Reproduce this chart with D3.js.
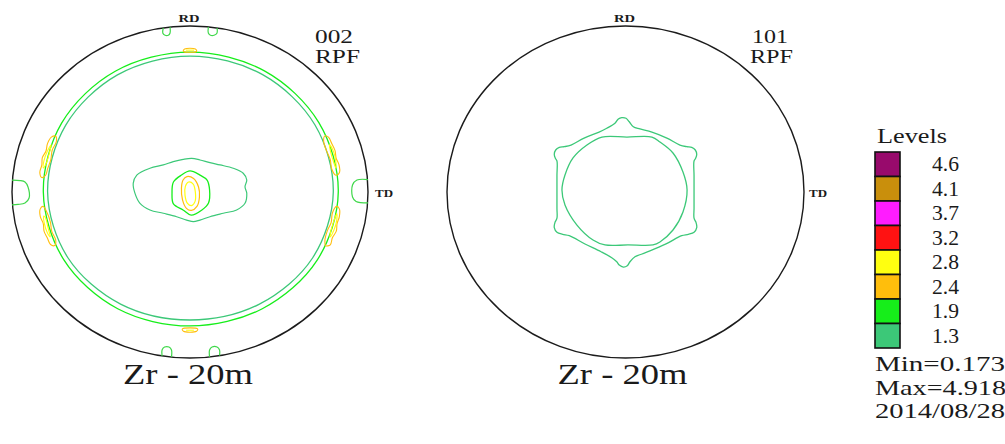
<!DOCTYPE html>
<html>
<head>
<meta charset="utf-8">
<script src="https://cdn.jsdelivr.net/npm/d3@7"></script>
<style>
  html, body { margin: 0; padding: 0; background: #fff; }
  svg { display: block; }
  text { font-family: "Liberation Serif", "DejaVu Serif", serif; fill: #1a1a1a; }
</style>
</head>
<body>
<svg id="chart" width="1005" height="444"></svg>
<script>
// ---- legend data --------------------------------------------------------
const levels = [4.6, 4.1, 3.7, 3.2, 2.8, 2.4, 1.9, 1.3];
const levelLabels = ["4.6", "4.1", "3.7", "3.2", "2.8", "2.4", "1.9", "1.3"];
const levelColors = ["#980a6c", "#c98f0c", "#ff1cff", "#ff1212", "#ffff10", "#ffbe0c", "#16ee1a", "#3cc878"];
const statLines = ["Min=0.173", "Max=4.918", "2014/08/28"];
const poleNames = ["002", "101"];
const sampleName = "Zr - 20m";

// ---- 002 pole figure (unit-circle coordinates) --------------------------
// rings: [azimuth deg, radius]
const ring002Outer = [[0,0.833],[30,0.836],[60,0.841],[90,0.843],[120,0.840],[150,0.832],
  [180,0.824],[210,0.818],[240,0.812],[270,0.807],[300,0.812],[330,0.824]];
const ring002Inner = [[0,0.805],[30,0.810],[60,0.816],[90,0.819],[120,0.815],[150,0.806],
  [180,0.800],[210,0.792],[240,0.780],[270,0.771],[300,0.780],[330,0.795]];

// 2.4 islands sitting on the ring: [azimuth deg, radius]
const ring002Level24 = [
  [[156,0.826],[157,0.846],[160,0.852],[163,0.846],[166,0.855],[169,0.848],[172,0.852],[174,0.838],[173,0.818],[170,0.812],[166,0.806],[162,0.814],[158,0.810]],
  [[186,0.830],[187,0.848],[190,0.854],[193,0.846],[196,0.853],[199,0.848],[202,0.845],[203,0.826],[201,0.808],[197,0.812],[193,0.805],[189,0.812]],
  [[7,0.826],[8,0.848],[11,0.853],[14,0.846],[17,0.852],[20,0.848],[23,0.845],[24,0.828],[22,0.810],[18,0.806],[14,0.812],[10,0.808]],
  [[337,0.828],[338,0.850],[341,0.846],[344,0.855],[347,0.848],[350,0.852],[353,0.846],[354,0.828],[351,0.810],[347,0.814],[343,0.806],[339,0.812]],
  [[87.5,0.848],[88,0.862],[92,0.862],[92.5,0.848]],
  [[267,0.826],[267.5,0.840],[272.5,0.840],[273,0.826]]
];
// 2.8 islands inside them
const ring002Level28 = [
  [[160,0.830],[163,0.838],[167,0.842],[170,0.836],[168,0.826],[164,0.824]],
  [[190,0.834],[193,0.840],[197,0.838],[199,0.830],[195,0.826],[191,0.826]],
  [[10,0.832],[13,0.840],[17,0.842],[20,0.834],[17,0.826],[13,0.826]],
  [[341,0.832],[344,0.840],[348,0.842],[351,0.834],[347,0.826],[343,0.826]],
  [[88.5,0.855],[91.5,0.855]],
  [[268.5,0.833],[271.5,0.833]]
];

// small 1.9 loops touching the rim: [x, y]
const rim002Loops = [
  [[-1.000,0.072],[-0.955,0.069],[-0.927,0.060],[-0.910,0.030],[-0.904,-0.036],[-0.927,-0.066],[-0.966,-0.075],[-1.000,-0.078]],
  [[1.000,0.075],[0.938,0.072],[0.913,0.042],[0.913,-0.030],[0.933,-0.057],[1.000,-0.066]],
  [[-0.150,0.988],[-0.153,0.958],[-0.140,0.944],[-0.122,0.944],[-0.112,0.958],[-0.112,0.993]],
  [[0.103,0.994],[0.103,0.958],[0.115,0.944],[0.135,0.944],[0.152,0.958],[0.152,0.988]],
  [[-0.157,-0.988],[-0.157,-0.952],[-0.143,-0.934],[-0.118,-0.934],[-0.104,-0.952],[-0.104,-0.994]],
  [[0.110,-0.993],[0.110,-0.952],[0.124,-0.934],[0.152,-0.934],[0.166,-0.952],[0.166,-0.986]]
];

// central maximum: [x, y]
const center002Level13 = [[-0.319,0.052],[-0.299,0.102],[-0.225,0.143],[-0.150,0.163],[-0.094,0.183],
  [-0.038,0.197],[0.010,0.203],[0.056,0.193],[0.112,0.177],[0.169,0.163],[0.243,0.143],[0.299,0.113],
  [0.319,0.072],[0.309,0.032],[0.319,-0.008],[0.309,-0.068],[0.262,-0.108],[0.187,-0.128],[0.112,-0.149],
  [0.056,-0.169],[0.019,-0.179],[-0.019,-0.169],[-0.075,-0.149],[-0.150,-0.128],[-0.225,-0.108],
  [-0.281,-0.068],[-0.309,-0.008]];
const center002Level19 = [[0.000,0.127],[0.056,0.102],[0.096,0.072],[0.110,0.012],[0.104,-0.066],
  [0.067,-0.108],[0.006,-0.139],[-0.039,-0.108],[-0.093,-0.072],[-0.101,-0.006],[-0.093,0.060],[-0.048,0.102]];
const center002Level24 = [[-0.017,0.093],[0.020,0.081],[0.048,0.030],[0.053,-0.030],[0.039,-0.087],
  [0.008,-0.111],[-0.020,-0.099],[-0.042,-0.048],[-0.048,0.024],[-0.039,0.072]];
const center002Level28 = [[-0.008,0.060],[0.018,0.048],[0.030,0.000],[0.028,-0.058],[0.008,-0.082],
  [-0.014,-0.068],[-0.028,-0.020],[-0.026,0.034]];

// ---- 101 pole figure ----------------------------------------------------
const star101Level13 = [[-0.021,0.448],[0.003,0.444],[0.021,0.423],[0.044,0.393],[0.081,0.380],
  [0.148,0.361],[0.232,0.325],[0.305,0.283],[0.343,0.273],[0.371,0.269],[0.391,0.253],[0.399,0.227],
  [0.393,0.203],[0.384,0.187],[0.384,0.100],[0.384,0.000],[0.384,-0.100],[0.384,-0.158],[0.395,-0.183],
  [0.399,-0.215],[0.384,-0.243],[0.352,-0.255],[0.315,-0.263],[0.227,-0.313],[0.137,-0.355],
  [0.080,-0.378],[0.053,-0.390],[0.025,-0.420],[0.010,-0.444],[-0.012,-0.452],[-0.035,-0.440],
  [-0.049,-0.420],[-0.077,-0.396],[-0.137,-0.360],[-0.227,-0.313],[-0.315,-0.263],[-0.352,-0.255],
  [-0.384,-0.243],[-0.399,-0.215],[-0.395,-0.183],[-0.384,-0.158],[-0.384,-0.100],[-0.384,0.000],
  [-0.384,0.100],[-0.384,0.187],[-0.393,0.203],[-0.399,0.227],[-0.391,0.253],[-0.371,0.269],
  [-0.343,0.273],[-0.305,0.283],[-0.232,0.325],[-0.148,0.361],[-0.105,0.384],[-0.059,0.414],
  [-0.040,0.440]];
const lens101Level13 = [[-0.132,0.331],[0.008,0.331],[0.148,0.331],[0.193,0.301],[0.266,0.235],
  [0.322,0.120],[0.345,0.012],[0.322,-0.120],[0.266,-0.229],[0.193,-0.301],[0.154,-0.319],
  [0.014,-0.319],[-0.115,-0.319],[-0.182,-0.289],[-0.272,-0.199],[-0.339,-0.078],[-0.356,0.012],
  [-0.339,0.102],[-0.294,0.205],[-0.216,0.283]];

// ---- drawing ------------------------------------------------------------
const svg = d3.select("#chart");
const levelColor = d3.scaleOrdinal(levels, levelColors);
const rimColor = "#3fd84a";

const polar = d => [d[1] * Math.cos(d[0] * Math.PI / 180), d[1] * Math.sin(d[0] * Math.PI / 180)];

function poleFigure(cx, cy, rx, ry, name, labelPos) {
  const x = d3.scaleLinear().domain([-1, 1]).range([cx - rx, cx + rx]);
  const y = d3.scaleLinear().domain([-1, 1]).range([cy + ry, cy - ry]);
  const g = svg.append("g");
  const closed = d3.line().x(d => x(d[0])).y(d => y(d[1])).curve(d3.curveCatmullRomClosed.alpha(0.5));
  const open = d3.line().x(d => x(d[0])).y(d => y(d[1])).curve(d3.curveCatmullRom.alpha(0.5));

  g.append("ellipse")
    .attr("cx", x(0)).attr("cy", y(0))
    .attr("rx", x(1) - x(0)).attr("ry", y(0) - y(1))
    .attr("fill", "none").attr("stroke", "#1b1b1b").attr("stroke-width", 1.4);

  const contour = (pts, level, isClosed = true, width = 1.2, color) =>
    g.append("path")
      .attr("d", (isClosed ? closed : open)(pts))
      .attr("fill", "none")
      .attr("stroke", color || levelColor(level))
      .attr("stroke-width", width)
      .attr("stroke-linejoin", "round");

  // axis labels
  g.append("text").attr("x", x(0) - 1).attr("y", 22).attr("text-anchor", "middle")
    .attr("font-size", 11).attr("font-weight", "bold")
    .attr("textLength", 21).attr("lengthAdjust", "spacingAndGlyphs").text("RD");
  g.append("text").attr("x", x(1) + labelPos.td).attr("y", y(0) + 5)
    .attr("font-size", 11).attr("font-weight", "bold")
    .attr("textLength", 18).attr("lengthAdjust", "spacingAndGlyphs").text("TD");
  g.append("text").attr("x", x(0) + labelPos.nameX).attr("y", 43)
    .attr("font-size", 19).attr("textLength", labelPos.nameW).attr("lengthAdjust", "spacingAndGlyphs").text(name);
  g.append("text").attr("x", x(0) + labelPos.rpfX).attr("y", 63)
    .attr("font-size", 19).attr("textLength", labelPos.rpfW).attr("lengthAdjust", "spacingAndGlyphs").text("RPF");
  g.append("text").attr("x", x(0) + labelPos.titleDx).attr("y", 384).attr("text-anchor", "middle")
    .attr("font-size", 29).attr("textLength", 130).attr("lengthAdjust", "spacingAndGlyphs").text(sampleName);

  return { contour };
}

// 002
const f002 = poleFigure(190, 192, 178, 166, poleNames[0],
  { td: 7, nameX: 125, nameW: 38, rpfX: 125, rpfW: 45, titleDx: -2 });
f002.contour(ring002Outer.map(polar), 1.9, true, 1.3);
f002.contour(ring002Inner.map(polar), 1.3, true, 1.3);
ring002Level24.forEach(p => f002.contour(p.map(polar), 2.4, true, 1.1));
ring002Level28.forEach(p => f002.contour(p.map(polar), 2.8, p.length > 2, 1.1));
rim002Loops.forEach(p => f002.contour(p, 1.9, false, 1.2, rimColor));
f002.contour(center002Level13, 1.3, true, 1.2);
f002.contour(center002Level19, 1.9, true, 1.3);
f002.contour(center002Level24, 2.4, true, 1.2);
f002.contour(center002Level28, 2.8, true, 1.2);

// 101
const f101 = poleFigure(625.5, 192, 178.5, 166, poleNames[1],
  { td: 5, nameX: 126.5, nameW: 36, rpfX: 124.5, rpfW: 43, titleDx: -3 });
f101.contour(star101Level13, 1.3, true, 1.3);
f101.contour(lens101Level13, 1.3, true, 1.3);

// ---- legend -------------------------------------------------------------
const legend = svg.append("g");
const row = d3.scaleBand().domain(levels).range([152, 348]).padding(0);

legend.append("text").attr("x", 877).attr("y", 143).attr("font-size", 21)
  .attr("textLength", 70).attr("lengthAdjust", "spacingAndGlyphs").text("Levels");

legend.selectAll("rect.level").data(levels).join("rect")
  .attr("class", "level")
  .attr("x", 875).attr("y", d => row(d))
  .attr("width", 25).attr("height", row.bandwidth())
  .attr("fill", d => levelColor(d))
  .attr("stroke", "#111").attr("stroke-width", 1.6);

legend.selectAll("text.value").data(levels).join("text")
  .attr("class", "value")
  .attr("x", 932).attr("y", d => row(d) + row.bandwidth() / 2 + 7)
  .attr("font-size", 21).attr("textLength", 27).attr("lengthAdjust", "spacingAndGlyphs")
  .text((d, i) => levelLabels[i]);

legend.selectAll("text.stat").data(statLines).join("text")
  .attr("class", "stat")
  .attr("x", 875).attr("y", (d, i) => 371 + i * 23.5)
  .attr("font-size", 22).attr("textLength", (d, i) => [130, 131, 130][i]).attr("lengthAdjust", "spacingAndGlyphs")
  .text(d => d);
</script>
</body>
</html>
